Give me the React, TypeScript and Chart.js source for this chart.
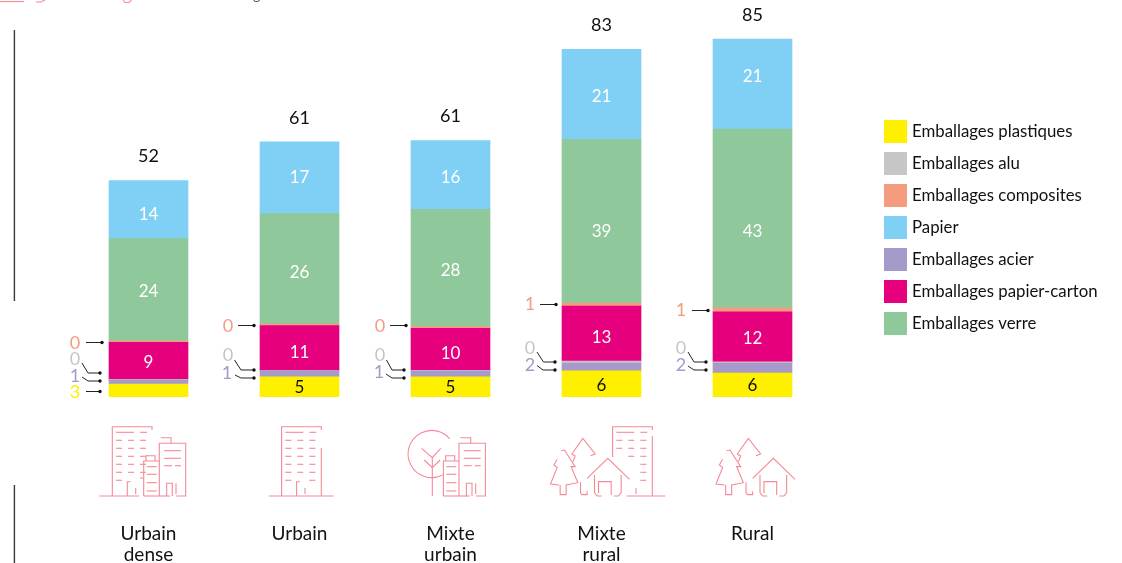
import React, { useEffect, useRef } from "react";
import { Chart, registerables } from "chart.js";

Chart.register(...registerables);

const categories = [["Urbain", "dense"], ["Urbain"], ["Mixte", "urbain"], ["Mixte", "rural"], ["Rural"]];
const plastiques = [3.1, 4.8, 4.8, 6.2, 5.7];
const acier = [1.0, 1.4, 1.45, 1.9, 2.4];
const alu = [0.1, 0.1, 0.1, 0.45, 0.25];
const papierCarton = [8.8, 10.7, 10.0, 13.1, 11.9];
const composites = [0.3, 0.35, 0.4, 0.7, 0.95];
const verre = [24.4, 26.3, 27.9, 39.0, 42.6];
const papier = [13.8, 17.1, 16.4, 21.4, 21.4];
const legendOrder = [
  "Emballages plastiques",
  "Emballages alu",
  "Emballages composites",
  "Papier",
  "Emballages acier",
  "Emballages papier-carton",
  "Emballages verre",
];

const FONT = "Lato, 'Open Sans', sans-serif";
const INK = "#111111";
const PINK = "#f58a96";

const datasets = [
  { label: "Emballages plastiques", data: plastiques, backgroundColor: "#fff000" },
  { label: "Emballages acier", data: acier, backgroundColor: "#a59ac9" },
  { label: "Emballages alu", data: alu, backgroundColor: "#c6c6c6" },
  { label: "Emballages papier-carton", data: papierCarton, backgroundColor: "#e6007e" },
  { label: "Emballages composites", data: composites, backgroundColor: "#f49c7e" },
  { label: "Emballages verre", data: verre, backgroundColor: "#8fc89a" },
  { label: "Papier", data: papier, backgroundColor: "#80cff5" },
];

// datasets drawn as a number inside the bar: [dataset index, text colour, bars, vertical nudge per bar]
const insideLabels: [number, string, number[], number[]][] = [
  [0, "#111111", [1, 2, 3, 4], [0, 1, 1, 2, 0]],
  [3, "#ffffff", [0, 1, 2, 3, 4], [2, 4, 4, 4, 2]],
  [5, "#ffffff", [0, 1, 2, 3, 4], [2, 4, 2, 10, 13]],
  [6, "#ffffff", [0, 1, 2, 3, 4], [5, 0, 3, 2, -8]],
];

// leader lines: [bar, dataset, text x, text y, polyline]
type Callout = [number, number, number, number, number[][]];
const callouts: Callout[] = [
  [0, 4, 75, 343, [[86, 342.5], [102, 342.5]]],
  [0, 2, 75, 359, [[82, 363], [88, 373], [100, 373]]],
  [0, 1, 75, 376, [[82, 377], [88, 381], [100, 381]]],
  [0, 0, 75, 392, [[86, 391.5], [100, 391.5]]],
  [1, 4, 228, 326, [[238, 325.5], [254, 325.5]]],
  [1, 2, 228, 355, [[234.5, 360], [241, 370], [254, 370]]],
  [1, 1, 227, 373, [[235, 375], [241, 378], [254, 378]]],
  [2, 4, 380, 326, [[390, 325.5], [406, 325.5]]],
  [2, 2, 380, 355, [[386.5, 360], [392, 370], [404, 370]]],
  [2, 1, 379, 372, [[386, 374], [392, 378], [404, 378]]],
  [3, 4, 530, 304, [[540, 304.5], [556, 304.5]]],
  [3, 2, 530, 348, [[537, 352], [543.5, 362], [555, 362]]],
  [3, 1, 530, 365, [[537, 365.5], [543, 370], [555, 370]]],
  [4, 4, 681, 310, [[692, 310.5], [708, 310.5]]],
  [4, 2, 681, 348, [[688, 352], [694, 362], [706, 362]]],
  [4, 1, 681, 365, [[688, 366], [694, 370], [706, 370]]],
];

function poly(ctx: CanvasRenderingContext2D, dx: number, dy: number, pts: number[][]) {
  ctx.beginPath();
  pts.forEach((p, i) => (i ? ctx.lineTo(p[0] + dx, p[1] + dy) : ctx.moveTo(p[0] + dx, p[1] + dy)));
  ctx.stroke();
}

function bigBuilding(ctx: CanvasRenderingContext2D, dx: number, variant: string) {
  const P = (pts: number[][]) => poly(ctx, dx, 0, pts);
  const rows = [440.3, 448.3, 456.3, 464.3, 472.3];
  if (variant === "rural") {
    P([[112.3, 457], [112.3, 426.7], [152, 426.7], [152, 430]]);
    P([[152, 436], [152, 496]]);
    P([[126, 496], [165, 496]]);
    P([[116, 432.3], [134, 432.3]]);
    P([[140, 432.3], [147, 432.3]]);
    rows.forEach((y, i) => {
      if (i < 2) P([[116, y], [122, y]]);
      if (i < 3) P([[128, y], [134, y]]);
      P([[140, y], [146, y]]);
    });
    P([[140, 480.3], [146, 480.3]]);
    P([[135.7, 488], [135.7, 494]]);
    return;
  }
  P([[112.3, 496], [112.3, 426.7], [152, 426.7], [152, 430]]);
  P([[116, 432.3], [134, 432.3]]);
  P([[140, 432.3], [147, 432.3]]);
  rows.forEach((y) => {
    P([[116, y], [122, y]]);
    P([[128, y], [134, y]]);
    P([[140, y], [146, y]]);
  });
  P([[116, 480.3], [122, 480.3]]);
  P([[127.3, 496], [127.3, 481.7], [130.7, 481.7]]);
  P([[135.7, 488], [135.7, 494]]);
  if (variant === "single") {
    P([[152, 448], [152, 496]]);
    P([[140, 480.3], [146, 480.3]]);
    P([[99.3, 496], [164.5, 496]]);
  } else {
    P([[99.3, 496], [139, 496]]);
    P([[140, 478], [143, 478]]);
  }
}

function towers(ctx: CanvasRenderingContext2D, dx: number) {
  const P = (pts: number[][]) => poly(ctx, dx, 0, pts);
  P([[143.7, 496], [143.7, 461], [159.3, 461]]);
  P([[146, 461], [146, 455.7], [155, 455.7], [155, 461]]);
  [466.7, 474.3, 482.7, 491].forEach((y) => P([[146.7, y], [156.7, y]]));
  P([[143.7, 496], [170, 496]]);
  P([[159.3, 496], [159.3, 443.3], [185.7, 443.3], [185.7, 496], [176, 496]]);
  P([[160.7, 437.7], [171, 437.7], [171, 443.3]]);
  P([[164, 450.7], [181, 450.7]]);
  P([[164, 458.3], [181, 458.3]]);
  P([[164, 465.7], [172, 465.7]]);
  P([[175, 465.7], [181, 465.7]]);
  P([[166.7, 496], [166.7, 483.3], [172.3, 483.3], [172.3, 496]]);
  P([[176, 483.3], [176, 494]]);
}

function treeAndCircle(ctx: CanvasRenderingContext2D) {
  ctx.beginPath();
  ctx.arc(431.7, 454, 23.6, (63 * Math.PI) / 180, (320 * Math.PI) / 180);
  ctx.stroke();
  poly(ctx, 0, 0, [[432.3, 457.7], [432.3, 496]]);
  poly(ctx, 0, 0, [[421.7, 448.3], [432.3, 457.7], [440.7, 448.3]]);
  poly(ctx, 0, 0, [[424.3, 460], [432.3, 467.7], [440, 460]]);
}

function forest(ctx: CanvasRenderingContext2D, dx: number) {
  const z = (pts: number[][]) => pts.map((p) => [710 + p[0] / 3, 430 + p[1] / 3]);
  const P = (pts: number[][]) => poly(ctx, dx, 0, z(pts));
  P([[85, 95], [92, 78], [82, 72], [115, 25], [152, 72], [138, 77]]);
  P([[108, 157], [108, 188], [112, 194], [128, 194], [128, 184]]);
  P([[38, 88], [28, 105], [38, 112], [18, 162], [44, 165]]);
  P([[50, 62], [60, 60], [92, 110], [80, 110], [100, 158], [65, 165], [65, 194], [47, 194], [47, 165]]);
  P([[128, 145], [190, 85], [255, 148]]);
  P([[150, 135], [150, 188], [158, 198], [172, 198]]);
  P([[230, 135], [230, 188], [222, 198], [208, 198]]);
  P([[162, 190], [162, 155], [200, 155], [200, 195]]);
}

const decorations = {
  id: "decorations",
  afterDatasetsDraw(chart: any) {
    const ctx: CanvasRenderingContext2D = chart.ctx;
    ctx.save();
    ctx.textAlign = "center";
    ctx.textBaseline = "middle";

    const metas = datasets.map((_, i) => chart.getDatasetMeta(i));

    // numbers inside the bars
    ctx.font = `17px ${FONT}`;
    insideLabels.forEach(([ds, colour, bars, nudge]) => {
      bars.forEach((b) => {
        const el = metas[ds].data[b];
        ctx.fillStyle = colour;
        ctx.fillText(String(Math.round(datasets[ds].data[b])), el.x, (el.y + el.base) / 2 + nudge[b]);
      });
    });

    // totals above the bars
    ctx.fillStyle = INK;
    ctx.font = `18px ${FONT}`;
    categories.forEach((_, b) => {
      const total = datasets.reduce((s, d) => s + d.data[b], 0);
      const top = metas[metas.length - 1].data[b].y;
      ctx.fillText(String(Math.round(total)), metas[0].data[b].x, top - 24);
    });

    // leader lines
    callouts.forEach(([b, ds, tx, ty, pts]) => {
      ctx.fillStyle = datasets[ds].backgroundColor;
      ctx.font = `18px ${FONT}`;
      ctx.fillText(String(Math.round(datasets[ds].data[b])), tx, ty);
      ctx.strokeStyle = "#222222";
      ctx.lineWidth = 1;
      poly(ctx, 0, 0, pts);
      const end = pts[pts.length - 1];
      ctx.fillStyle = "#111111";
      ctx.beginPath();
      ctx.arc(end[0], end[1], 1.7, 0, Math.PI * 2);
      ctx.fill();
    });

    // pictograms
    ctx.strokeStyle = PINK;
    ctx.lineWidth = 1.1;
    bigBuilding(ctx, 0, "dense");
    towers(ctx, 0);
    bigBuilding(ctx, 169.3, "single");
    treeAndCircle(ctx);
    towers(ctx, 299.7);
    bigBuilding(ctx, 500.3, "rural");
    forest(ctx, -165.5);
    forest(ctx, 0);

    // legend
    ctx.textAlign = "left";
    ctx.font = `16.8px ${FONT}`;
    legendOrder.forEach((name, i) => {
      const d = datasets.find((x) => x.label === name)!;
      const y = 120 + i * 32;
      ctx.fillStyle = d.backgroundColor;
      ctx.fillRect(884, y, 23, 23);
      ctx.fillStyle = INK;
      ctx.fillText(name, 912, y + 11.5);
    });

    // page furniture cropped out of the original
    ctx.strokeStyle = "#3a3a3a";
    ctx.lineWidth = 1.4;
    poly(ctx, 0, 0, [[14.4, 30], [14.4, 301]]);
    poly(ctx, 0, 0, [[14.4, 485], [14.4, 563]]);
    ctx.strokeStyle = PINK;
    ctx.lineWidth = 1.1;
    poly(ctx, 0, 0, [[0, 1.5], [24, 1.5]]);
    poly(ctx, 0, 0, [[36, 2], [41, 2], [45, 0]]);
    poly(ctx, 0, 0, [[123, 0], [125, 2.5], [129, 2.5], [131.5, 0]]);
    ctx.fillStyle = "#555555";
    ctx.font = `14px ${FONT}`;
    ctx.textBaseline = "alphabetic";
    ctx.fillText("g", 253, 0);
    ctx.restore();
  },
};

export default function App() {
  const ref = useRef<HTMLCanvasElement>(null);
  useEffect(() => {
    const chart = new Chart(ref.current!, {
      type: "bar",
      data: { labels: categories, datasets: datasets.map((d) => ({ ...d, barThickness: 79, borderWidth: 0 })) },
      plugins: [decorations],
      options: {
        animation: false,
        responsive: false,
        layout: { padding: { left: 73, right: 294, top: 0, bottom: 0 } },
        plugins: { legend: { display: false }, tooltip: { enabled: false } },
        scales: {
          x: {
            stacked: true,
            grid: { display: false },
            border: { display: false },
            afterFit: (s: any) => {
              s.height = 166;
              s.paddingLeft = 0;
              s.paddingRight = 0;
            },
            ticks: {
              autoSkip: false,
              maxRotation: 0,
              padding: 118,
              color: INK,
              font: { family: FONT, size: 19, lineHeight: 1.11 },
            },
          },
          y: { stacked: true, display: false, min: 0, max: 94.5 },
        },
      },
    });
    return () => chart.destroy();
  }, []);
  return (
    <canvas
      ref={ref}
      width={1122}
      height={563}
      style={{ position: "absolute", left: 0, top: 0, display: "block", background: "#fff" }}
    />
  );
}
